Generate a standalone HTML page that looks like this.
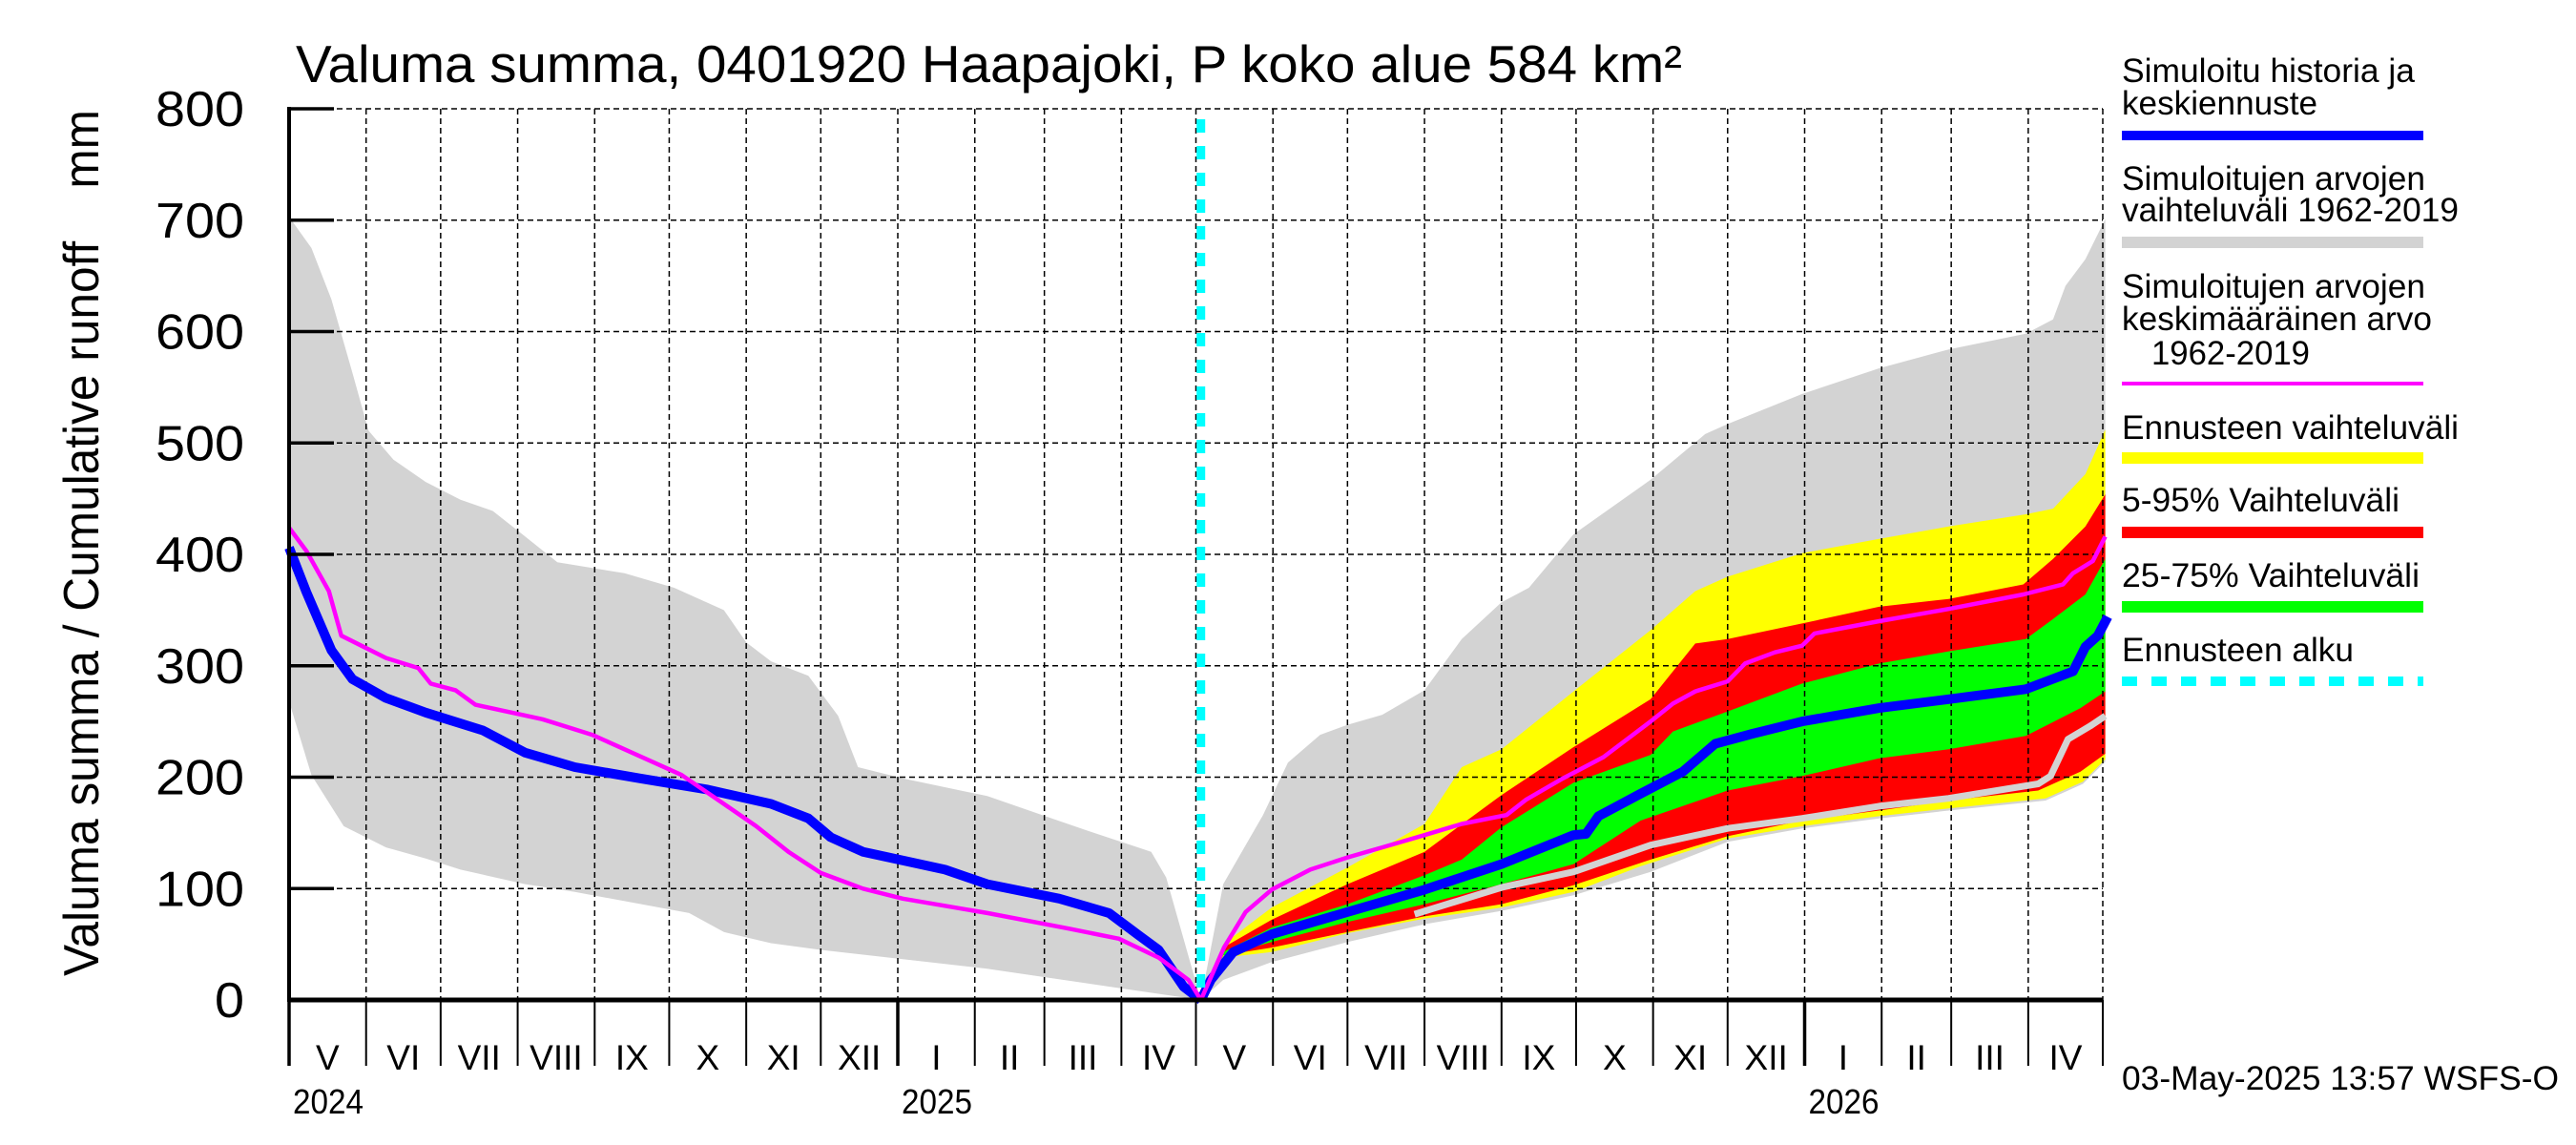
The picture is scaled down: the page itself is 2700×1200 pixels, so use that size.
<!DOCTYPE html>
<html><head><meta charset="utf-8"><style>
html,body{margin:0;padding:0;background:#fff;}
svg{display:block;font-family:"Liberation Sans",sans-serif;}
</style></head><body>
<svg id="chart" xmlns="http://www.w3.org/2000/svg" width="2700" height="1200" viewBox="0 0 2700 1200">
<rect x="0" y="0" width="2700" height="1200" fill="#fff"/>
<text x="310" y="86" font-size="55" textLength="1453" lengthAdjust="spacingAndGlyphs">Valuma summa, 0401920 Haapajoki, P koko alue 584 km²</text>
<text transform="translate(103,1023) rotate(-90)" font-size="52" textLength="908" lengthAdjust="spacingAndGlyphs">Valuma summa / Cumulative runoff&#160;&#160;&#160;&#160;mm</text>
<g id="bands"></g>
<g id="grid"></g>
<g id="lines"></g>
<g id="axes"></g>
<g id="legend">
<text x="2224" y="86" font-size="35" textLength="307" lengthAdjust="spacingAndGlyphs">Simuloitu historia ja</text>
<text x="2224" y="120" font-size="35" textLength="205" lengthAdjust="spacingAndGlyphs">keskiennuste</text>
<rect x="2224" y="137" width="316" height="10" fill="#0000ff"/>
<text x="2224" y="199" font-size="35" textLength="318" lengthAdjust="spacingAndGlyphs">Simuloitujen arvojen</text>
<text x="2224" y="232" font-size="35" textLength="353" lengthAdjust="spacingAndGlyphs">vaihteluväli 1962-2019</text>
<rect x="2224" y="248" width="316" height="12" fill="#d3d3d3"/>
<text x="2224" y="312" font-size="35" textLength="318" lengthAdjust="spacingAndGlyphs">Simuloitujen arvojen</text>
<text x="2224" y="346" font-size="35" textLength="325" lengthAdjust="spacingAndGlyphs">keskimääräinen arvo</text>
<text x="2255" y="382" font-size="35" textLength="166" lengthAdjust="spacingAndGlyphs">1962-2019</text>
<rect x="2224" y="400" width="316" height="4" fill="#ff00ff"/>
<text x="2224" y="460" font-size="35" textLength="353" lengthAdjust="spacingAndGlyphs">Ennusteen vaihteluväli</text>
<rect x="2224" y="474" width="316" height="12" fill="#ffff00"/>
<text x="2224" y="536" font-size="35" textLength="291" lengthAdjust="spacingAndGlyphs">5-95% Vaihteluväli</text>
<rect x="2224" y="552" width="316" height="12" fill="#ff0000"/>
<text x="2224" y="615" font-size="35" textLength="312" lengthAdjust="spacingAndGlyphs">25-75% Vaihteluväli</text>
<rect x="2224" y="630" width="316" height="12" fill="#00ff00"/>
<text x="2224" y="693" font-size="35" textLength="243" lengthAdjust="spacingAndGlyphs">Ennusteen alku</text>
<line x1="2224" y1="714" x2="2540" y2="714" stroke="#00ffff" stroke-width="10" stroke-dasharray="16 15"/>
</g>
<text x="2224" y="1142" font-size="35" textLength="458" lengthAdjust="spacingAndGlyphs">03-May-2025 13:57 WSFS-O</text>
</svg>
<script>
// ---- data ----
const yTicks = [0,100,200,300,400,500,600,700,800];
const monthLabels = ["V","VI","VII","VIII","IX","X","XI","XII","I","II","III","IV","V","VI","VII","VIII","IX","X","XI","XII","I","II","III","IV"];
const monthLengths = [31,30,31,31,30,31,30,31,31,28,31,30,31,30,31,31,30,31,30,31,31,28,31,30];
const yearLabels = ["2024","2025","2026"];
const yearStartDays = [0,245,610];
const forecastStartDay = 367;

const histBlueDays = [0,7,17,25.5,39,55,78,95,115,141,168,194,209,218,231,264,281,310,330,342,350,360,367];
const histBlueVals = [406,366,314,288,271,258,242,222,209,199,189,176,163,146,133,117,104,91,78,58,45,12,0];
const histMagDays = [0,7,16,21,39,52,57,67,75,102,122,138,158,175,188,201,214,231,247,281,314,334,350,362,367];
const histMagVals = [424,403,367,327,307,298,284,278,265,252,238,222,202,176,156,133,114,100,91,78,64,55,38,18,0];
const histGrayUpDays = [0,9,17,25.5,32,42,55,69,82,95,108,135,155,175,184,194,209,221,229,247,281,307,324,347,353,367];
const histGrayUpVals = [703,675,629,563,511,485,465,449,439,416,393,383,370,350,321,304,291,255,209,199,183,163,150,133,110,0];
const histGrayLoDays = [0,9,22,39,55,69,95,115,161,175,194,214,281,330,367];
const histGrayLoVals = [268,202,156,137,127,117,104,97,78,61,51,45,28,12,0];

// forecast: day offsets from forecast start
const fcGrayUpT = [0,9,25,35,48,59,73,90,105,121,132,150,181,203,212,242,273,301,332,343,348,356,364];
const fcGrayUpV = [0,104,166,213,238,247,256,278,324,357,370,418,467,508,517,544,567,584,598,611,641,665,701];
const fcGrayLoT = [0,9,28.5,59,90,121,150,181,212,242,273,301,340,355,364];
const fcGrayLoV = [0,18,34,52,68,80,94,115,142,154,163,170,179,194,214];
const fcYelUpT = [0,9,28.5,59,90,105,121,150,181,199,212,242,273,301,332,343,356,364];
const fcYelUpV = [0,50,83,119,158,209,225,277,332,367,380,401,414,425,436,441,472,512];
const fcYelLoT = [0,9,28.5,59,90,121,150,177,212,242,273,301,340,355,364];
const fcYelLoV = [0,38,43,60,73,83,97,120,145,156,165,172,181,196,216];
const fcRedUpT = [0,9,28.5,59,90,121,150,181,199,212,242,273,301,331,343,356,364];
const fcRedUpV = [0,47,72,104,133,184,227,270,320,324,338,353,360,373,396,425,454];
const fcRedLoT = [0,9,28.5,59,90,121,150,181,212,242,273,301,337,354,364];
const fcRedLoV = [0,40,47,61,75,86,103,126,147,161,170,179,188,205,221];
const fcGrnUpT = [0,9,28.5,59,90,105,121,150,181,190,212,242,273,301,332,343,356,364];
const fcGrnUpV = [0,43,65,86,112,126,155,195,220,241,259,284,302,313,324,342,364,396];
const fcGrnLoT = [0,9,28.5,59,90,121,150,177,212,242,273,301,332,354,364];
const fcGrnLoV = [0,40,52,70,86,104,122,161,188,201,217,225,237,262,277];
const fcBlueT = [0,4,13,28.5,59,90,121,150,155,160,176,194,207,222,242,273,301,332,351,356,361,365];
const fcBlueV = [0,18,43,59,79,99,122,148,149,165,184,205,230,239,250,262,270,279,295,317,327,344];
const fcMagT = [0,9.3,18,28.5,44,59,73,90,105,123,131,145,162,181,190,199,212,219,231,242,247,273,301,331,347,351,359,364];
const fcMagV = [0,47,79,99,117,128,137,148,158,166,180,198,218,250,266,277,286,302,312,318,329,340,351,364,373,383,394,416];
const fcMedT = [86,121,150,181,212,242,273,301,337,342,349,358,364];
const fcMedV = [77,101,115,139,154,163,174,181,194,201,234,246,255];

// ---- scales ----
const X0 = 303, X1 = 2204, Y0 = 1048, Y1 = 114, TOTAL_DAYS = 730, YMAX = 800;
function xs(d){ return X0 + d*(X1-X0)/TOTAL_DAYS; }
function ys(v){ return Y0 - v*(Y0-Y1)/YMAX; }
const NS = "http://www.w3.org/2000/svg";
function mk(tag, parent, attrs){
  const el = document.createElementNS(NS, tag);
  for (const k in attrs) el.setAttribute(k, attrs[k]);
  parent.appendChild(el);
  return el;
}
function pts(days, vals, off){ return days.map((d,i)=>xs(d+off).toFixed(1)+","+ys(vals[i]).toFixed(1)); }
function band(upD, upV, loD, loV, off, color, name){
  const p = pts(upD, upV, off).concat(pts(loD, loV, off).reverse()).join(" ");
  const el = mk("polygon", document.getElementById("bands"), {points:p, fill:color});
  
  
}
function line(days, vals, off, color, w, name){
  const el = mk("polyline", document.getElementById("lines"), {points:pts(days, vals, off).join(" "), fill:"none", stroke:color, "stroke-width":w, "stroke-linejoin":"round"});
  
  
}

// ---- bands ----
band(histGrayUpDays, histGrayUpVals, histGrayLoDays, histGrayLoVals, 0, "#d3d3d3", "history-range-band");
band(fcGrayUpT, fcGrayUpV, fcGrayLoT, fcGrayLoV, forecastStartDay, "#d3d3d3", "forecast-history-range-band");
band(fcYelUpT, fcYelUpV, fcYelLoT, fcYelLoV, forecastStartDay, "#ffff00", "forecast-full-range-band");
band(fcRedUpT, fcRedUpV, fcRedLoT, fcRedLoV, forecastStartDay, "#ff0000", "forecast-5-95-band");
band(fcGrnUpT, fcGrnUpV, fcGrnLoT, fcGrnLoV, forecastStartDay, "#00ff00", "forecast-25-75-band");

// ---- grid ----
const grid = document.getElementById("grid");
yTicks.forEach(v=>{
  if (v===0) return;
  const el = mk("line", grid, {x1:X0, x2:X1, y1:ys(v), y2:ys(v), stroke:"#000", "stroke-width":1.5, "stroke-dasharray":"6 4"});
  
  
});
let acc = 0;
const monthStarts = [];
monthLengths.forEach(len=>{ monthStarts.push(acc); acc += len; });
monthStarts.concat([acc]).forEach(d=>{
  if (d===0) return;
  const el = mk("line", grid, {x1:xs(d), x2:xs(d), y1:Y1, y2:Y0, stroke:"#000", "stroke-width":1.5, "stroke-dasharray":"6 4"});
  
  
});

// ---- lines ----
line(fcMedT, fcMedV, forecastStartDay, "#d3d3d3", 7, "forecast-median-line");
line(histBlueDays, histBlueVals, 0, "#0000ff", 10, "history-simulated-line");
line(fcBlueT, fcBlueV, forecastStartDay, "#0000ff", 10, "forecast-mean-line");
line(histMagDays, histMagVals, 0, "#ff00ff", 4.5, "history-mean-line");
line(fcMagT, fcMagV, forecastStartDay, "#ff00ff", 4.5, "forecast-period-mean-line");
const cy = mk("line", document.getElementById("lines"), {x1:xs(forecastStartDay), x2:xs(forecastStartDay), y1:125, y2:1040, stroke:"#00ffff", "stroke-width":9, "stroke-dasharray":"14 14"});



// ---- axes ----
const ax = document.getElementById("axes");
let el;
el = mk("line", ax, {x1:X0, x2:X0, y1:Y1-2, y2:Y0+2, stroke:"#000", "stroke-width":4});


el = mk("line", ax, {x1:X0, x2:X1, y1:Y0, y2:Y0, stroke:"#000", "stroke-width":5});


yTicks.forEach(v=>{
  const t = mk("line", ax, {x1:X0, x2:X0+47, y1:ys(v), y2:ys(v), stroke:"#000", "stroke-width":3.5});
  
  
  const s = String(v);
  const lb = mk("text", ax, {x:256, y:ys(v)+18, "font-size":52, "text-anchor":"end", textLength:31*s.length, lengthAdjust:"spacingAndGlyphs"});
  lb.textContent = s;
  
  
});
monthStarts.forEach((d,i)=>{
  const isYear = yearStartDays.indexOf(d) >= 0;
  const t = mk("line", ax, {x1:xs(d), x2:xs(d), y1:Y0, y2:1117, stroke:"#000", "stroke-width": isYear ? 3.5 : 2});
  
  
  const mid = (xs(d) + xs(d+monthLengths[i]))/2;
  const lb = mk("text", ax, {x:mid, y:1121, "font-size":37, "text-anchor":"middle"});
  lb.textContent = monthLabels[i];
  
  
});
el = mk("line", ax, {x1:xs(TOTAL_DAYS), x2:xs(TOTAL_DAYS), y1:Y0, y2:1117, stroke:"#000", "stroke-width":2});


yearLabels.forEach((y,i)=>{
  const lb = mk("text", ax, {x:xs(yearStartDays[i])+4, y:1167, "font-size":36, textLength:74, lengthAdjust:"spacingAndGlyphs"});
  lb.textContent = y;
  
  
});
</script>
</body></html>
